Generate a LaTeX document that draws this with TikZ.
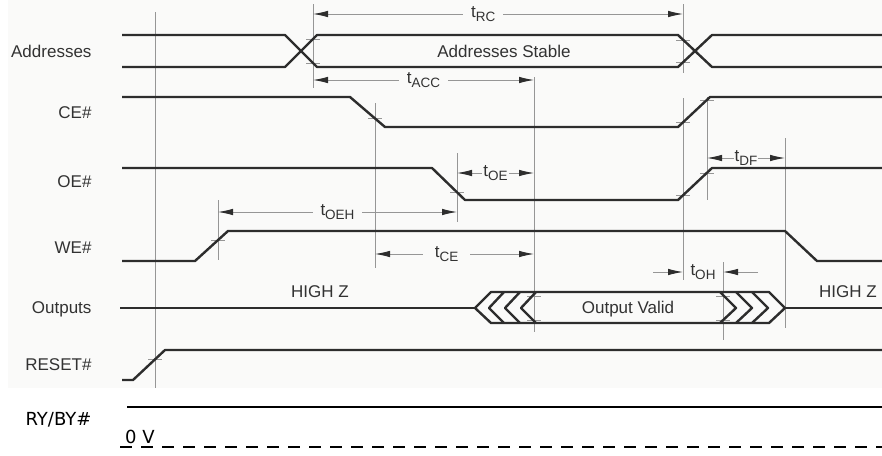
\documentclass[tikz,border=0pt]{standalone}
\usepackage{fontspec}
\usepackage{tikz}
\setmainfont{Liberation Sans}
\newfontfamily\dejavu{DejaVu Sans}
\usetikzlibrary{arrows.meta}
\definecolor{sigcol}{RGB}{45,45,45}
\definecolor{guidecol}{RGB}{150,150,150}
\definecolor{bgcol}{RGB}{250,250,249}
\definecolor{txtcol}{RGB}{50,50,50}
\newcommand{\tsub}[1]{t\raisebox{-4pt}{\fontsize{13.5}{14}\selectfont #1}}
\tikzset{sig/.style = {line width=2.4pt, draw=sigcol, line join=round},
         guide/.style = {line width=0.9pt, draw=guidecol},
         dim/.style = {guide, {Latex[length=15pt,width=6.5pt,color=sigcol]}-{Latex[length=15pt,width=6.5pt,color=sigcol]}},
         half/.style = {guide, -{Latex[length=15pt,width=6.5pt,color=sigcol]}},
         tlab/.style = {fill=bgcol, inner xsep=8pt, inner ysep=1pt, text=txtcol},
         siglab/.style = {anchor=east, text=txtcol}}

\begin{document}
\begin{tikzpicture}[x=1pt, y=-1pt, font=\fontsize{17}{20}\selectfont]
    \useasboundingbox (0,0) rectangle (882,455);
    \fill[white] (0,0) rectangle (882,455);
    \fill[bgcol] (8,0) rectangle (882,388);

    \draw[guide] (155,12) -- (155,388);
    \draw[guide] (313,4) -- (313,88);
    \draw[guide] (683,4) -- (683,73);
    \draw[guide] (534,77) -- (534,332);
    \draw[guide] (375,103) -- (375,268);
    \draw[guide] (457,153) -- (457,222);
    \draw[guide] (683,98) -- (683,280);
    \draw[guide] (707,97) -- (707,200);
    \draw[guide] (785,138) -- (785,328);
    \draw[guide] (723,262) -- (723,340);
    \draw[guide] (218,200) -- (218,260);
    \foreach \x/\y in {313/39, 313/63, 683/40, 683/62, 375/118, 457/192, 683/122, 707/100,
                       683/195, 707/173, 218/240, 155/359, 534/296, 534/320, 723/296, 723/320}
        \draw[guide] (\x-7,\y) -- (\x+7,\y);

    \coordinate (rcL) at (313,14);   \coordinate (rcR) at (683,14);
    \coordinate (accL) at (313,80);  \coordinate (accR) at (534,80);
    \coordinate (oeL) at (457,173);  \coordinate (oeR) at (534,173);
    \coordinate (dfL) at (707,158);  \coordinate (dfR) at (785,158);
    \coordinate (oehL) at (218,212); \coordinate (oehR) at (457,212);
    \coordinate (ceL) at (375,254);  \coordinate (ceR) at (534,254);
    \coordinate (ohL) at (683,272);  \coordinate (ohR) at (723,272);
    \coordinate (ohLs) at (653,272); \coordinate (ohRs) at (758,272);

    \draw[dim] (rcL) -- (rcR) node[tlab, pos=0.46] (trc) {\tsub{RC}};
    \draw[dim] (accL) -- (accR) node[tlab, pos=0.5] (tacc) {\tsub{ACC}};
    \draw[dim] (oeL) -- (oeR) node[tlab, inner xsep=1pt, pos=0.5] (toe) {\tsub{OE}};
    \draw[dim] (dfL) -- (dfR) node[tlab, inner xsep=1pt, pos=0.5] (tdf) {\tsub{DF}};
    \draw[dim] (oehL) -- (oehR) node[tlab, pos=0.5] (toeh) {\tsub{OEH}};
    \draw[dim] (ceL) -- (ceR) node[tlab, inner xsep=12pt, pos=0.45] (tce) {\tsub{CE}};
    \draw[half] (ohLs) -- (ohL);
    \draw[half] (ohRs) -- (ohR);
    \node[text=txtcol] (toh) at (703,272) {\tsub{OH}};

    \draw[sig] (122,35) -- (285,35) -- (317,67) -- (678,67) -- (712,35) -- (882,35);
    \draw[sig] (122,67) -- (285,67) -- (317,35) -- (678,35) -- (712,67) -- (882,67);
    \draw[sig] (122,97) -- (350,97) -- (385,127) -- (678,127) -- (710,97) -- (882,97);
    \draw[sig] (122,168) -- (432,168) -- (465,200) -- (678,200) -- (712,168) -- (882,168);
    \draw[sig] (122,261) -- (195,261) -- (228,231) -- (785,231) -- (817,261) -- (882,261);
    \draw[sig] (120,308) -- (475,308);
    \draw[sig] (785,308) -- (882,308);
    \draw[sig] (475,308) -- (491,292) -- (769,292) -- (785,308) -- (769,323) -- (491,323) -- cycle;
    \foreach \a in {489,505,521}
        \draw[sig] (\a+15,292) -- (\a,308) -- (\a+15,323);
    \foreach \a in {736,752,768}
        \draw[sig] (\a-16,292) -- (\a,308) -- (\a-16,323);
    \draw[sig] (122,380) -- (133,380) -- (165,350) -- (882,350);

    \draw[line width=2.4pt] (127,407) -- (882,407);
    \draw[line width=2.4pt, dash pattern=on 12pt off 9pt] (120,447) -- (882,447);

    \node[text=txtcol] (stable) at (504,51) {Addresses Stable};
    \node[text=txtcol] (valid) at (628,309) {Output Valid};
    \node[text=txtcol] (hzL) at (320,292) {HIGH Z};
    \node[text=txtcol] (hzR) at (848,292) {HIGH Z};

    \node[siglab] (addr) at (95,51) {Addresses};
    \node[siglab] (ce) at (95,113) {CE\#};
    \node[siglab] (oe) at (95,182) {OE\#};
    \node[siglab] (we) at (95,248) {WE\#};
    \node[siglab] (out) at (95,309) {Outputs};
    \node[siglab] (rst) at (95,365) {RESET\#};
    \node[anchor=east, font=\dejavu\fontsize{18}{20}\selectfont] (ryby) at (95,420) {RY/BY\#};
    \node[anchor=base west, inner sep=0pt, font=\dejavu\fontsize{18}{20}\selectfont] (zerov) at (125,443) {0 V};
\end{tikzpicture}
\end{document}
